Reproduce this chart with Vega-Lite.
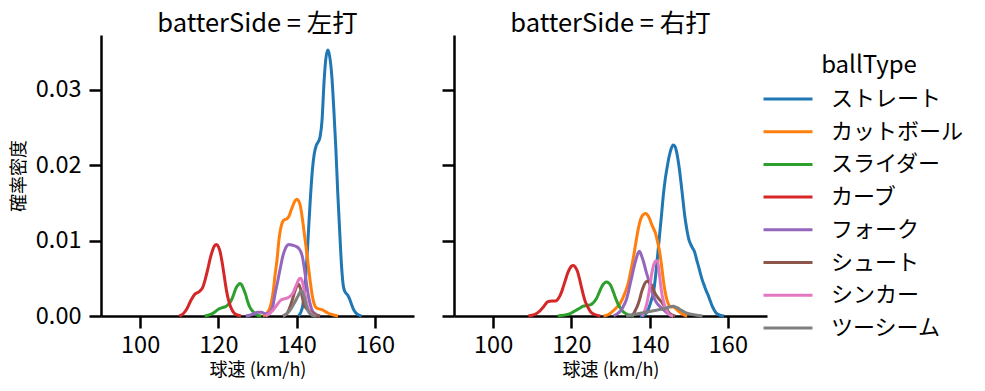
{
  "$schema": "https://vega.github.io/schema/vega-lite/v6.json",
  "background": "white",
  "padding": {"left": 10, "top": 11, "right": 5, "bottom": 5},
  "config": {
    "font": "Noto Sans CJK JP",
    "view": {"stroke": null},
    "axis": {"grid": false, "domainColor": "black", "domainWidth": 2.5, "tickColor": "black", "tickWidth": 2.5, "tickSize": 12, "labelFontSize": 23.5, "labelColor": "black", "labelPadding": 5, "titleFontSize": 18, "titleFontWeight": "normal", "titleColor": "black"},
    "title": {"fontSize": 25.5, "fontWeight": "normal", "color": "black"},
    "legend": {"symbolType": "M-2,0H2", "symbolSize": 600, "symbolStrokeWidth": 3, "labelFontSize": 22, "labelColor": "black", "titleFontSize": 24, "titleFontWeight": "normal", "titleColor": "black", "rowPadding": 7.7, "labelOffset": 29, "titleAnchor": "middle", "titlePadding": 7, "padding": 0}
  },
  "data": {"values": [
    {"s":"左打","t":"ストレート","x":140.5,"y":0},{"s":"左打","t":"ストレート","x":141.5,"y":0.0012},{"s":"左打","t":"ストレート","x":142,"y":0.0033},{"s":"左打","t":"ストレート","x":142.5,"y":0.0065},{"s":"左打","t":"ストレート","x":143,"y":0.011},{"s":"左打","t":"ストレート","x":143.5,"y":0.0155},{"s":"左打","t":"ストレート","x":144,"y":0.0192},{"s":"左打","t":"ストレート","x":144.5,"y":0.0215},{"s":"左打","t":"ストレート","x":145,"y":0.0226},{"s":"左打","t":"ストレート","x":145.5,"y":0.0231},{"s":"左打","t":"ストレート","x":146,"y":0.0238},{"s":"左打","t":"ストレート","x":146.5,"y":0.026},{"s":"左打","t":"ストレート","x":147,"y":0.031},{"s":"左打","t":"ストレート","x":147.5,"y":0.0343},{"s":"左打","t":"ストレート","x":148,"y":0.0353},{"s":"左打","t":"ストレート","x":148.5,"y":0.0343},{"s":"左打","t":"ストレート","x":149,"y":0.0318},{"s":"左打","t":"ストレート","x":149.5,"y":0.0275},{"s":"左打","t":"ストレート","x":150,"y":0.0225},{"s":"左打","t":"ストレート","x":150.5,"y":0.0165},{"s":"左打","t":"ストレート","x":151,"y":0.0113},{"s":"左打","t":"ストレート","x":151.5,"y":0.0065},{"s":"左打","t":"ストレート","x":152,"y":0.0038},{"s":"左打","t":"ストレート","x":152.5,"y":0.0031},{"s":"左打","t":"ストレート","x":153,"y":0.0028},{"s":"左打","t":"ストレート","x":153.5,"y":0.0023},{"s":"左打","t":"ストレート","x":154,"y":0.0016},{"s":"左打","t":"ストレート","x":154.5,"y":0.0009},{"s":"左打","t":"ストレート","x":155,"y":0.0005},{"s":"左打","t":"ストレート","x":156,"y":0.0001},{"s":"左打","t":"ストレート","x":156.6,"y":0},
    {"s":"左打","t":"カットボール","x":131.4,"y":0},{"s":"左打","t":"カットボール","x":132.5,"y":0.0004},{"s":"左打","t":"カットボール","x":133.5,"y":0.0017},{"s":"左打","t":"カットボール","x":134,"y":0.0032},{"s":"左打","t":"カットボール","x":134.5,"y":0.0055},{"s":"左打","t":"カットボール","x":135,"y":0.0075},{"s":"左打","t":"カットボール","x":135.5,"y":0.0102},{"s":"左打","t":"カットボール","x":136,"y":0.0118},{"s":"左打","t":"カットボール","x":136.5,"y":0.0126},{"s":"左打","t":"カットボール","x":137,"y":0.0128},{"s":"左打","t":"カットボール","x":137.5,"y":0.0129},{"s":"左打","t":"カットボール","x":138,"y":0.0132},{"s":"左打","t":"カットボール","x":138.5,"y":0.0139},{"s":"左打","t":"カットボール","x":139,"y":0.0146},{"s":"左打","t":"カットボール","x":139.5,"y":0.0152},{"s":"左打","t":"カットボール","x":140,"y":0.0155},{"s":"左打","t":"カットボール","x":140.5,"y":0.0153},{"s":"左打","t":"カットボール","x":141,"y":0.0145},{"s":"左打","t":"カットボール","x":141.5,"y":0.0128},{"s":"左打","t":"カットボール","x":142,"y":0.0108},{"s":"左打","t":"カットボール","x":142.5,"y":0.0088},{"s":"左打","t":"カットボール","x":143,"y":0.0066},{"s":"左打","t":"カットボール","x":143.5,"y":0.0045},{"s":"左打","t":"カットボール","x":144,"y":0.0027},{"s":"左打","t":"カットボール","x":144.5,"y":0.0016},{"s":"左打","t":"カットボール","x":145,"y":0.0011},{"s":"左打","t":"カットボール","x":146,"y":0.0009},{"s":"左打","t":"カットボール","x":147,"y":0.0007},{"s":"左打","t":"カットボール","x":148,"y":0.0004},{"s":"左打","t":"カットボール","x":149,"y":0.0002},{"s":"左打","t":"カットボール","x":150.6,"y":0},
    {"s":"左打","t":"スライダー","x":116.5,"y":0},{"s":"左打","t":"スライダー","x":118,"y":0.0002},{"s":"左打","t":"スライダー","x":119,"y":0.0005},{"s":"左打","t":"スライダー","x":120,"y":0.0009},{"s":"左打","t":"スライダー","x":121,"y":0.0011},{"s":"左打","t":"スライダー","x":122,"y":0.0013},{"s":"左打","t":"スライダー","x":122.5,"y":0.0015},{"s":"左打","t":"スライダー","x":123,"y":0.0018},{"s":"左打","t":"スライダー","x":123.5,"y":0.0023},{"s":"左打","t":"スライダー","x":124,"y":0.003},{"s":"左打","t":"スライダー","x":124.5,"y":0.0037},{"s":"左打","t":"スライダー","x":125,"y":0.0041},{"s":"左打","t":"スライダー","x":125.5,"y":0.0043},{"s":"左打","t":"スライダー","x":126,"y":0.0041},{"s":"左打","t":"スライダー","x":126.5,"y":0.0035},{"s":"左打","t":"スライダー","x":127,"y":0.0028},{"s":"左打","t":"スライダー","x":127.5,"y":0.0019},{"s":"左打","t":"スライダー","x":128,"y":0.0012},{"s":"左打","t":"スライダー","x":128.5,"y":0.0008},{"s":"左打","t":"スライダー","x":129,"y":0.0005},{"s":"左打","t":"スライダー","x":130,"y":0.0001},{"s":"左打","t":"スライダー","x":131,"y":0},
    {"s":"左打","t":"カーブ","x":110,"y":0},{"s":"左打","t":"カーブ","x":111,"y":0.0003},{"s":"左打","t":"カーブ","x":112,"y":0.001},{"s":"左打","t":"カーブ","x":113,"y":0.0021},{"s":"左打","t":"カーブ","x":114,"y":0.0029},{"s":"左打","t":"カーブ","x":115,"y":0.0032},{"s":"左打","t":"カーブ","x":116,"y":0.0038},{"s":"左打","t":"カーブ","x":116.5,"y":0.0046},{"s":"左打","t":"カーブ","x":117,"y":0.0056},{"s":"左打","t":"カーブ","x":117.5,"y":0.0067},{"s":"左打","t":"カーブ","x":118,"y":0.0078},{"s":"左打","t":"カーブ","x":118.5,"y":0.0087},{"s":"左打","t":"カーブ","x":119,"y":0.0093},{"s":"左打","t":"カーブ","x":119.5,"y":0.0095},{"s":"左打","t":"カーブ","x":120,"y":0.0092},{"s":"左打","t":"カーブ","x":120.5,"y":0.0084},{"s":"左打","t":"カーブ","x":121,"y":0.007},{"s":"左打","t":"カーブ","x":121.5,"y":0.0053},{"s":"左打","t":"カーブ","x":122,"y":0.0036},{"s":"左打","t":"カーブ","x":122.5,"y":0.0023},{"s":"左打","t":"カーブ","x":123,"y":0.0014},{"s":"左打","t":"カーブ","x":123.5,"y":0.0008},{"s":"左打","t":"カーブ","x":124,"y":0.0004},{"s":"左打","t":"カーブ","x":125,"y":0.0001},{"s":"左打","t":"カーブ","x":125.8,"y":0},
    {"s":"左打","t":"フォーク","x":127,"y":0},{"s":"左打","t":"フォーク","x":128,"y":0.0001},{"s":"左打","t":"フォーク","x":129,"y":0.0003},{"s":"左打","t":"フォーク","x":130,"y":0.0005},{"s":"左打","t":"フォーク","x":131,"y":0.0005},{"s":"左打","t":"フォーク","x":132,"y":0.0003},{"s":"左打","t":"フォーク","x":133,"y":0.0004},{"s":"左打","t":"フォーク","x":134,"y":0.0015},{"s":"左打","t":"フォーク","x":134.5,"y":0.003},{"s":"左打","t":"フォーク","x":135,"y":0.0042},{"s":"左打","t":"フォーク","x":135.5,"y":0.0055},{"s":"左打","t":"フォーク","x":136,"y":0.0068},{"s":"左打","t":"フォーク","x":136.5,"y":0.008},{"s":"左打","t":"フォーク","x":137,"y":0.0088},{"s":"左打","t":"フォーク","x":137.5,"y":0.0093},{"s":"左打","t":"フォーク","x":138,"y":0.0095},{"s":"左打","t":"フォーク","x":139,"y":0.0094},{"s":"左打","t":"フォーク","x":140,"y":0.0092},{"s":"左打","t":"フォーク","x":140.5,"y":0.009},{"s":"左打","t":"フォーク","x":141,"y":0.0086},{"s":"左打","t":"フォーク","x":141.5,"y":0.0078},{"s":"左打","t":"フォーク","x":142,"y":0.0062},{"s":"左打","t":"フォーク","x":142.5,"y":0.0044},{"s":"左打","t":"フォーク","x":143,"y":0.0027},{"s":"左打","t":"フォーク","x":143.5,"y":0.0015},{"s":"左打","t":"フォーク","x":144,"y":0.0007},{"s":"左打","t":"フォーク","x":145,"y":0.0002},{"s":"左打","t":"フォーク","x":146,"y":0},
    {"s":"左打","t":"シュート","x":136.5,"y":0},{"s":"左打","t":"シュート","x":137.5,"y":0.0003},{"s":"左打","t":"シュート","x":138,"y":0.0008},{"s":"左打","t":"シュート","x":138.5,"y":0.0015},{"s":"左打","t":"シュート","x":139,"y":0.0023},{"s":"左打","t":"シュート","x":139.5,"y":0.0032},{"s":"左打","t":"シュート","x":140,"y":0.0039},{"s":"左打","t":"シュート","x":140.5,"y":0.0042},{"s":"左打","t":"シュート","x":141,"y":0.0036},{"s":"左打","t":"シュート","x":141.5,"y":0.0024},{"s":"左打","t":"シュート","x":142,"y":0.0014},{"s":"左打","t":"シュート","x":142.5,"y":0.001},{"s":"左打","t":"シュート","x":143,"y":0.0008},{"s":"左打","t":"シュート","x":144,"y":0.0004},{"s":"左打","t":"シュート","x":145,"y":0.0001},{"s":"左打","t":"シュート","x":146,"y":0},
    {"s":"左打","t":"シンカー","x":132,"y":0},{"s":"左打","t":"シンカー","x":133,"y":0.0003},{"s":"左打","t":"シンカー","x":134,"y":0.0008},{"s":"左打","t":"シンカー","x":135,"y":0.0015},{"s":"左打","t":"シンカー","x":136,"y":0.0021},{"s":"左打","t":"シンカー","x":137,"y":0.0023},{"s":"左打","t":"シンカー","x":138,"y":0.0025},{"s":"左打","t":"シンカー","x":139,"y":0.003},{"s":"左打","t":"シンカー","x":139.5,"y":0.0036},{"s":"左打","t":"シンカー","x":140,"y":0.0042},{"s":"左打","t":"シンカー","x":140.5,"y":0.0048},{"s":"左打","t":"シンカー","x":141,"y":0.005},{"s":"左打","t":"シンカー","x":141.5,"y":0.0045},{"s":"左打","t":"シンカー","x":142,"y":0.0032},{"s":"左打","t":"シンカー","x":142.5,"y":0.0018},{"s":"左打","t":"シンカー","x":143,"y":0.0009},{"s":"左打","t":"シンカー","x":144,"y":0.0002},{"s":"左打","t":"シンカー","x":145,"y":0},
    {"s":"左打","t":"ツーシーム","x":136.5,"y":0},{"s":"左打","t":"ツーシーム","x":137.5,"y":0.0003},{"s":"左打","t":"ツーシーム","x":138.5,"y":0.0009},{"s":"左打","t":"ツーシーム","x":139.5,"y":0.0018},{"s":"左打","t":"ツーシーム","x":140.5,"y":0.0028},{"s":"左打","t":"ツーシーム","x":141.2,"y":0.0034},{"s":"左打","t":"ツーシーム","x":142,"y":0.0024},{"s":"左打","t":"ツーシーム","x":142.5,"y":0.0013},{"s":"左打","t":"ツーシーム","x":143,"y":0.0006},{"s":"左打","t":"ツーシーム","x":144,"y":0.0001},{"s":"左打","t":"ツーシーム","x":145,"y":0},
    {"s":"右打","t":"ストレート","x":137.5,"y":0},{"s":"右打","t":"ストレート","x":138.5,"y":0.0001},{"s":"右打","t":"ストレート","x":139.5,"y":0.0007},{"s":"右打","t":"ストレート","x":140.5,"y":0.0022},{"s":"右打","t":"ストレート","x":141,"y":0.0032},{"s":"右打","t":"ストレート","x":141.5,"y":0.0052},{"s":"右打","t":"ストレート","x":142,"y":0.0078},{"s":"右打","t":"ストレート","x":142.5,"y":0.0105},{"s":"右打","t":"ストレート","x":143,"y":0.0132},{"s":"右打","t":"ストレート","x":143.5,"y":0.016},{"s":"右打","t":"ストレート","x":144,"y":0.0182},{"s":"右打","t":"ストレート","x":144.5,"y":0.0198},{"s":"右打","t":"ストレート","x":145,"y":0.0212},{"s":"右打","t":"ストレート","x":145.5,"y":0.0222},{"s":"右打","t":"ストレート","x":146,"y":0.0227},{"s":"右打","t":"ストレート","x":146.5,"y":0.0225},{"s":"右打","t":"ストレート","x":147,"y":0.0215},{"s":"右打","t":"ストレート","x":147.5,"y":0.0199},{"s":"右打","t":"ストレート","x":148,"y":0.0178},{"s":"右打","t":"ストレート","x":148.5,"y":0.0155},{"s":"右打","t":"ストレート","x":149,"y":0.0132},{"s":"右打","t":"ストレート","x":149.5,"y":0.0115},{"s":"右打","t":"ストレート","x":150,"y":0.0102},{"s":"右打","t":"ストレート","x":150.5,"y":0.0095},{"s":"右打","t":"ストレート","x":151,"y":0.009},{"s":"右打","t":"ストレート","x":151.5,"y":0.0085},{"s":"右打","t":"ストレート","x":152,"y":0.0075},{"s":"右打","t":"ストレート","x":152.5,"y":0.0066},{"s":"右打","t":"ストレート","x":153,"y":0.0056},{"s":"右打","t":"ストレート","x":153.5,"y":0.0047},{"s":"右打","t":"ストレート","x":154,"y":0.004},{"s":"右打","t":"ストレート","x":154.5,"y":0.0033},{"s":"右打","t":"ストレート","x":155,"y":0.0027},{"s":"右打","t":"ストレート","x":155.5,"y":0.002},{"s":"右打","t":"ストレート","x":156,"y":0.0013},{"s":"右打","t":"ストレート","x":156.5,"y":0.0008},{"s":"右打","t":"ストレート","x":157,"y":0.0004},{"s":"右打","t":"ストレート","x":158,"y":0.0001},{"s":"右打","t":"ストレート","x":159,"y":0},
    {"s":"右打","t":"カットボール","x":128.2,"y":0},{"s":"右打","t":"カットボール","x":129.5,"y":0.0002},{"s":"右打","t":"カットボール","x":130.5,"y":0.0006},{"s":"右打","t":"カットボール","x":131.5,"y":0.0011},{"s":"右打","t":"カットボール","x":132.5,"y":0.0017},{"s":"右打","t":"カットボール","x":133.5,"y":0.0028},{"s":"右打","t":"カットボール","x":134,"y":0.0035},{"s":"右打","t":"カットボール","x":134.5,"y":0.0043},{"s":"右打","t":"カットボール","x":135,"y":0.0055},{"s":"右打","t":"カットボール","x":135.5,"y":0.0068},{"s":"右打","t":"カットボール","x":136,"y":0.0082},{"s":"右打","t":"カットボール","x":136.5,"y":0.0098},{"s":"右打","t":"カットボール","x":137,"y":0.0113},{"s":"右打","t":"カットボール","x":137.5,"y":0.0125},{"s":"右打","t":"カットボール","x":138,"y":0.0132},{"s":"右打","t":"カットボール","x":138.5,"y":0.0135},{"s":"右打","t":"カットボール","x":139,"y":0.0136},{"s":"右打","t":"カットボール","x":139.5,"y":0.0134},{"s":"右打","t":"カットボール","x":140,"y":0.0129},{"s":"右打","t":"カットボール","x":140.5,"y":0.0122},{"s":"右打","t":"カットボール","x":141,"y":0.0116},{"s":"右打","t":"カットボール","x":141.5,"y":0.011},{"s":"右打","t":"カットボール","x":142,"y":0.0099},{"s":"右打","t":"カットボール","x":142.5,"y":0.0087},{"s":"右打","t":"カットボール","x":143,"y":0.0069},{"s":"右打","t":"カットボール","x":143.5,"y":0.0048},{"s":"右打","t":"カットボール","x":144,"y":0.0031},{"s":"右打","t":"カットボール","x":144.5,"y":0.002},{"s":"右打","t":"カットボール","x":145,"y":0.0014},{"s":"右打","t":"カットボール","x":145.5,"y":0.0012},{"s":"右打","t":"カットボール","x":146,"y":0.0012},{"s":"右打","t":"カットボール","x":146.5,"y":0.0011},{"s":"右打","t":"カットボール","x":147,"y":0.0008},{"s":"右打","t":"カットボール","x":147.5,"y":0.0006},{"s":"右打","t":"カットボール","x":148,"y":0.0004},{"s":"右打","t":"カットボール","x":149,"y":0.0001},{"s":"右打","t":"カットボール","x":149.6,"y":0},
    {"s":"右打","t":"スライダー","x":116.5,"y":0},{"s":"右打","t":"スライダー","x":118,"y":0.0001},{"s":"右打","t":"スライダー","x":119,"y":0.0002},{"s":"右打","t":"スライダー","x":120,"y":0.0004},{"s":"右打","t":"スライダー","x":121,"y":0.0007},{"s":"右打","t":"スライダー","x":122,"y":0.001},{"s":"右打","t":"スライダー","x":123,"y":0.0013},{"s":"右打","t":"スライダー","x":124,"y":0.0014},{"s":"右打","t":"スライダー","x":125,"y":0.0015},{"s":"右打","t":"スライダー","x":125.5,"y":0.0017},{"s":"右打","t":"スライダー","x":126,"y":0.002},{"s":"右打","t":"スライダー","x":126.5,"y":0.0024},{"s":"右打","t":"スライダー","x":127,"y":0.003},{"s":"右打","t":"スライダー","x":127.5,"y":0.0036},{"s":"右打","t":"スライダー","x":128,"y":0.0041},{"s":"右打","t":"スライダー","x":128.5,"y":0.0044},{"s":"右打","t":"スライダー","x":129,"y":0.0045},{"s":"右打","t":"スライダー","x":129.5,"y":0.0044},{"s":"右打","t":"スライダー","x":130,"y":0.0041},{"s":"右打","t":"スライダー","x":130.5,"y":0.0035},{"s":"右打","t":"スライダー","x":131,"y":0.0028},{"s":"右打","t":"スライダー","x":131.5,"y":0.0021},{"s":"右打","t":"スライダー","x":132,"y":0.0015},{"s":"右打","t":"スライダー","x":132.5,"y":0.0011},{"s":"右打","t":"スライダー","x":133,"y":0.0007},{"s":"右打","t":"スライダー","x":134,"y":0.0003},{"s":"右打","t":"スライダー","x":135,"y":0.0001},{"s":"右打","t":"スライダー","x":136,"y":0},
    {"s":"右打","t":"カーブ","x":109,"y":0},{"s":"右打","t":"カーブ","x":110,"y":0.0001},{"s":"右打","t":"カーブ","x":111,"y":0.0003},{"s":"右打","t":"カーブ","x":112,"y":0.0007},{"s":"右打","t":"カーブ","x":113,"y":0.0013},{"s":"右打","t":"カーブ","x":114,"y":0.0019},{"s":"右打","t":"カーブ","x":115,"y":0.002},{"s":"右打","t":"カーブ","x":116,"y":0.002},{"s":"右打","t":"カーブ","x":116.5,"y":0.0022},{"s":"右打","t":"カーブ","x":117,"y":0.0026},{"s":"右打","t":"カーブ","x":117.5,"y":0.0032},{"s":"右打","t":"カーブ","x":118,"y":0.004},{"s":"右打","t":"カーブ","x":118.5,"y":0.0048},{"s":"右打","t":"カーブ","x":119,"y":0.0056},{"s":"右打","t":"カーブ","x":119.5,"y":0.0062},{"s":"右打","t":"カーブ","x":120,"y":0.0066},{"s":"右打","t":"カーブ","x":120.5,"y":0.0067},{"s":"右打","t":"カーブ","x":121,"y":0.0065},{"s":"右打","t":"カーブ","x":121.5,"y":0.006},{"s":"右打","t":"カーブ","x":122,"y":0.0051},{"s":"右打","t":"カーブ","x":122.5,"y":0.004},{"s":"右打","t":"カーブ","x":123,"y":0.0029},{"s":"右打","t":"カーブ","x":123.5,"y":0.002},{"s":"右打","t":"カーブ","x":124,"y":0.0014},{"s":"右打","t":"カーブ","x":124.5,"y":0.0009},{"s":"右打","t":"カーブ","x":125,"y":0.0005},{"s":"右打","t":"カーブ","x":126,"y":0.0002},{"s":"右打","t":"カーブ","x":127.4,"y":0},
    {"s":"右打","t":"フォーク","x":130.8,"y":0},{"s":"右打","t":"フォーク","x":132,"y":0.0004},{"s":"右打","t":"フォーク","x":133,"y":0.001},{"s":"右打","t":"フォーク","x":133.5,"y":0.0015},{"s":"右打","t":"フォーク","x":134,"y":0.0021},{"s":"右打","t":"フォーク","x":134.5,"y":0.003},{"s":"右打","t":"フォーク","x":135,"y":0.0042},{"s":"右打","t":"フォーク","x":135.5,"y":0.0053},{"s":"右打","t":"フォーク","x":136,"y":0.0065},{"s":"右打","t":"フォーク","x":136.5,"y":0.0075},{"s":"右打","t":"フォーク","x":137,"y":0.0083},{"s":"右打","t":"フォーク","x":137.4,"y":0.0086},{"s":"右打","t":"フォーク","x":138,"y":0.0079},{"s":"右打","t":"フォーク","x":138.5,"y":0.0071},{"s":"右打","t":"フォーク","x":139,"y":0.0061},{"s":"右打","t":"フォーク","x":139.5,"y":0.0052},{"s":"右打","t":"フォーク","x":140,"y":0.0043},{"s":"右打","t":"フォーク","x":140.5,"y":0.0034},{"s":"右打","t":"フォーク","x":141,"y":0.0026},{"s":"右打","t":"フォーク","x":141.5,"y":0.002},{"s":"右打","t":"フォーク","x":142,"y":0.0016},{"s":"右打","t":"フォーク","x":143,"y":0.0011},{"s":"右打","t":"フォーク","x":144,"y":0.0006},{"s":"右打","t":"フォーク","x":145,"y":0.0002},{"s":"右打","t":"フォーク","x":146,"y":0},
    {"s":"右打","t":"シュート","x":135,"y":0},{"s":"右打","t":"シュート","x":136,"y":0.0004},{"s":"右打","t":"シュート","x":136.5,"y":0.0009},{"s":"右打","t":"シュート","x":137,"y":0.0015},{"s":"右打","t":"シュート","x":137.5,"y":0.0023},{"s":"右打","t":"シュート","x":138,"y":0.0033},{"s":"右打","t":"シュート","x":138.5,"y":0.004},{"s":"右打","t":"シュート","x":139,"y":0.0045},{"s":"右打","t":"シュート","x":139.5,"y":0.0046},{"s":"右打","t":"シュート","x":140,"y":0.0044},{"s":"右打","t":"シュート","x":140.5,"y":0.0041},{"s":"右打","t":"シュート","x":141,"y":0.0035},{"s":"右打","t":"シュート","x":141.5,"y":0.0029},{"s":"右打","t":"シュート","x":142,"y":0.0025},{"s":"右打","t":"シュート","x":142.5,"y":0.0022},{"s":"右打","t":"シュート","x":143,"y":0.0019},{"s":"右打","t":"シュート","x":143.5,"y":0.0015},{"s":"右打","t":"シュート","x":144,"y":0.0011},{"s":"右打","t":"シュート","x":144.5,"y":0.0008},{"s":"右打","t":"シュート","x":145,"y":0.0004},{"s":"右打","t":"シュート","x":146,"y":0.0001},{"s":"右打","t":"シュート","x":146.5,"y":0},
    {"s":"右打","t":"シンカー","x":138,"y":0},{"s":"右打","t":"シンカー","x":138.5,"y":0.0004},{"s":"右打","t":"シンカー","x":139,"y":0.0011},{"s":"右打","t":"シンカー","x":139.5,"y":0.0022},{"s":"右打","t":"シンカー","x":140,"y":0.0037},{"s":"右打","t":"シンカー","x":140.5,"y":0.0055},{"s":"右打","t":"シンカー","x":141,"y":0.0067},{"s":"右打","t":"シンカー","x":141.5,"y":0.0073},{"s":"右打","t":"シンカー","x":142,"y":0.0073},{"s":"右打","t":"シンカー","x":142.5,"y":0.0055},{"s":"右打","t":"シンカー","x":143,"y":0.0034},{"s":"右打","t":"シンカー","x":143.5,"y":0.002},{"s":"右打","t":"シンカー","x":144,"y":0.0011},{"s":"右打","t":"シンカー","x":144.5,"y":0.0006},{"s":"右打","t":"シンカー","x":145,"y":0.0002},{"s":"右打","t":"シンカー","x":146,"y":0},
    {"s":"右打","t":"ツーシーム","x":134,"y":0},{"s":"右打","t":"ツーシーム","x":135,"y":0.0001},{"s":"右打","t":"ツーシーム","x":136,"y":0.0002},{"s":"右打","t":"ツーシーム","x":137,"y":0.0003},{"s":"右打","t":"ツーシーム","x":138,"y":0.0004},{"s":"右打","t":"ツーシーム","x":139,"y":0.0005},{"s":"右打","t":"ツーシーム","x":140,"y":0.0006},{"s":"右打","t":"ツーシーム","x":141,"y":0.0007},{"s":"右打","t":"ツーシーム","x":142,"y":0.0008},{"s":"右打","t":"ツーシーム","x":143,"y":0.0009},{"s":"右打","t":"ツーシーム","x":144,"y":0.001},{"s":"右打","t":"ツーシーム","x":145,"y":0.0012},{"s":"右打","t":"ツーシーム","x":146,"y":0.0013},{"s":"右打","t":"ツーシーム","x":147,"y":0.0011},{"s":"右打","t":"ツーシーム","x":148,"y":0.0008},{"s":"右打","t":"ツーシーム","x":149,"y":0.0005},{"s":"右打","t":"ツーシーム","x":150,"y":0.0003},{"s":"右打","t":"ツーシーム","x":151,"y":0.0002},{"s":"右打","t":"ツーシーム","x":152,"y":0.0001},{"s":"右打","t":"ツーシーム","x":153.5,"y":0}
  ]},
  "bounds": "flush",
  "spacing": 40,
  "hconcat": [
    {
      "width": 313, "height": 281,
      "title": {"text": "batterSide = 左打", "anchor": "middle", "offset": -2},
      "transform": [{"filter": "datum.s === '左打'"}],
      "mark": {"type": "line", "strokeWidth": 3, "interpolate": "monotone"},
      "encoding": {
        "x": {"field": "x", "type": "quantitative", "scale": {"domain": [90, 170], "nice": false, "zero": false}, "axis": {"values": [100, 120, 140, 160], "title": "球速 (km/h)", "titlePadding": 5}},
        "y": {"field": "y", "type": "quantitative", "scale": {"domain": [0, 0.0373], "nice": false}, "axis": {"values": [0, 0.01, 0.02, 0.03], "format": ".2f", "title": "確率密度", "titlePadding": 7, "labelPadding": 8}},
        "color": {"field": "t", "type": "nominal", "scale": {"domain": ["ストレート", "カットボール", "スライダー", "カーブ", "フォーク", "シュート", "シンカー", "ツーシーム"], "range": ["#1f77b4", "#ff7f0e", "#2ca02c", "#d62728", "#9467bd", "#8c564b", "#e377c2", "#7f7f7f"]}, "legend": {"title": "ballType", "orient": "none", "legendX": 673, "legendY": 19}},
        "order": {"field": "x", "type": "quantitative"}
      }
    },
    {
      "width": 313, "height": 281,
      "title": {"text": "batterSide = 右打", "anchor": "middle", "offset": -2},
      "transform": [{"filter": "datum.s === '右打'"}],
      "mark": {"type": "line", "strokeWidth": 3, "interpolate": "monotone"},
      "encoding": {
        "x": {"field": "x", "type": "quantitative", "scale": {"domain": [90, 170], "nice": false, "zero": false}, "axis": {"values": [100, 120, 140, 160], "title": "球速 (km/h)", "titlePadding": 5}},
        "y": {"field": "y", "type": "quantitative", "scale": {"domain": [0, 0.0373], "nice": false}, "axis": {"values": [0, 0.01, 0.02, 0.03], "labels": false, "title": null}},
        "color": {"field": "t", "type": "nominal", "scale": {"domain": ["ストレート", "カットボール", "スライダー", "カーブ", "フォーク", "シュート", "シンカー", "ツーシーム"], "range": ["#1f77b4", "#ff7f0e", "#2ca02c", "#d62728", "#9467bd", "#8c564b", "#e377c2", "#7f7f7f"]}, "legend": {"title": "ballType", "orient": "none", "legendX": 673, "legendY": 19}},
        "order": {"field": "x", "type": "quantitative"}
      }
    }
  ],
  "resolve": {"scale": {"color": "shared", "y": "independent"}}
}
